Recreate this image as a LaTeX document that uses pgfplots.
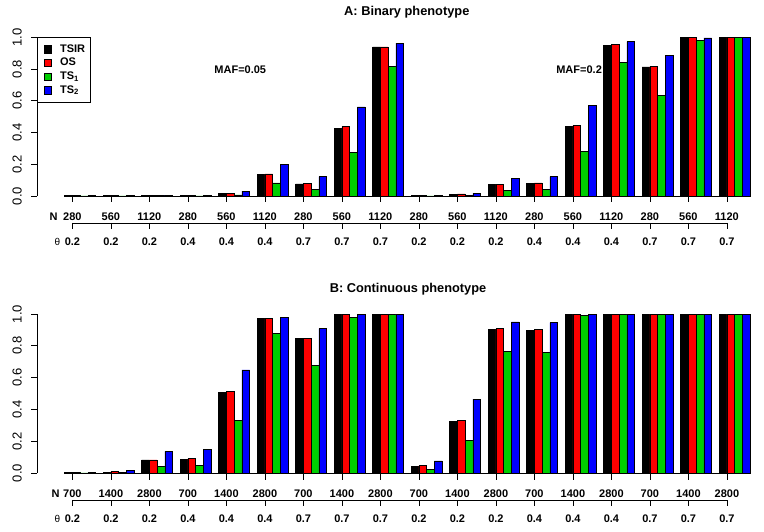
\documentclass[border=0pt]{standalone}
\usepackage{fontspec}
\setmainfont{Liberation Sans}
\usepackage{pgfplots}
\pgfplotsset{compat=1.18}
\usepackage{pgfplotstable}
\definecolor{rgreen}{RGB}{0,205,0}

% power by group: 18 groups, columns TSIR OS TS1 TS2
\pgfplotstableread{
N    theta TSIR  OS    TSa   TSb
280  0.2   0.002 0.002 0.001 0.002
560  0.2   0.002 0.002 0.001 0.002
1120 0.2   0.005 0.005 0.002 0.005
280  0.4   0.002 0.002 0.001 0.004
560  0.4   0.017 0.017 0.007 0.031
1120 0.4   0.134 0.139 0.082 0.197
280  0.7   0.076 0.080 0.042 0.122
560  0.7   0.428 0.437 0.277 0.561
1120 0.7   0.939 0.939 0.819 0.964
280  0.2   0.002 0.002 0.001 0.002
560  0.2   0.010 0.013 0.005 0.017
1120 0.2   0.074 0.074 0.036 0.113
280  0.4   0.078 0.082 0.044 0.122
560  0.4   0.437 0.445 0.282 0.573
1120 0.4   0.949 0.954 0.840 0.973
280  0.7   0.813 0.817 0.634 0.888
560  0.7   1.000 1.000 0.979 0.996
1120 0.7   1.000 1.000 1.000 1.000
}\binary

\pgfplotstableread{
N    theta TSIR  OS    TSa   TSb
700  0.2   0.002 0.002 0.001 0.002
1400 0.2   0.006 0.010 0.004 0.015
2800 0.2   0.082 0.082 0.042 0.136
700  0.4   0.088 0.092 0.048 0.149
1400 0.4   0.505 0.514 0.333 0.648
2800 0.4   0.973 0.973 0.878 0.977
700  0.7   0.845 0.849 0.679 0.908
1400 0.7   1.000 1.000 0.981 1.000
2800 0.7   1.000 1.000 1.000 1.000
700  0.2   0.044 0.048 0.023 0.077
1400 0.2   0.325 0.333 0.205 0.465
2800 0.2   0.904 0.908 0.767 0.950
700  0.4   0.899 0.904 0.761 0.946
1400 0.4   1.000 1.000 0.991 1.000
2800 0.4   1.000 1.000 1.000 1.000
700  0.7   1.000 1.000 1.000 1.000
1400 0.7   1.000 1.000 1.000 1.000
2800 0.7   1.000 1.000 1.000 1.000
}\continuous

\pgfplotsset{
  panel/.style={
    scale only axis, width=726.6pt,
    xmin=-2.56, xmax=91.8, ymin=0, ymax=1,
    axis x line=none, axis y line*=left,
    ytick={0,0.2,0.4,0.6,0.8,1.0},
    tick align=outside, major tick length=6pt,
    every tick/.style={line width=0.7pt, black},
    axis line style={line width=0.7pt},
    yticklabel shift=6pt,
    yticklabel style={/pgf/number format/.cd, fixed, fixed zerofill, precision=1, assume math mode=true,
      /tikz/.cd, font=\fontsize{13}{13}\selectfont, rotate=90, anchor=south},
    clip=false,
  },
  bars/.style={ybar, bar width=1, bar shift=#1, draw=black, line width=0.5pt},
}

\begin{document}
\begin{tikzpicture}
\useasboundingbox (0,0) rectangle (764pt,531pt);

\begin{axis}[panel, height=158.7pt, at={(37.3pt,335pt)}, anchor=south west,
  legend style={at={(0,1)}, anchor=north west, draw=black, line width=0.5pt,
    font=\bfseries\fontsize{11}{12}\selectfont, inner xsep=3pt, inner ysep=5pt,
    row sep=0.5pt},
  legend cell align=left,
  legend image code/.code={
    \draw[#1,draw=black,line width=0.4pt] (0pt,-3.8pt) rectangle (7.5pt,3.8pt);
    \path (-3pt,0pt) (14pt,0pt);},
]
\addplot[bars=-1.5, fill=black] table[x expr=5*\coordindex+3, y=TSIR] {\binary};
\addplot[bars=-0.5, fill=red] table[x expr=5*\coordindex+3, y=OS] {\binary};
\addplot[bars=0.5, fill=rgreen] table[x expr=5*\coordindex+3, y=TSa] {\binary};
\addplot[bars=1.5, fill=blue] table[x expr=5*\coordindex+3, y=TSb] {\binary};
\legend{TSIR, OS, TS\textsubscript{1}, TS\textsubscript{2}}
\node[font=\bfseries\fontsize{11}{12}\selectfont] at (axis cs:23.8,0.794) {MAF=0.05};
\node[font=\bfseries\fontsize{11}{12}\selectfont] at (axis cs:67.8,0.794) {MAF=0.2};
\end{axis}

\begin{axis}[panel, height=159pt, at={(37.3pt,58pt)}, anchor=south west]
\addplot[bars=-1.5, fill=black] table[x expr=5*\coordindex+3, y=TSIR] {\continuous};
\addplot[bars=-0.5, fill=red] table[x expr=5*\coordindex+3, y=OS] {\continuous};
\addplot[bars=0.5, fill=rgreen] table[x expr=5*\coordindex+3, y=TSa] {\continuous};
\addplot[bars=1.5, fill=blue] table[x expr=5*\coordindex+3, y=TSb] {\continuous};
\end{axis}

% titles
\node[font=\bfseries\fontsize{12.8}{14}\selectfont] at (406.8pt,518.5pt) {A: Binary phenotype};
\node[font=\bfseries\fontsize{12.8}{14}\selectfont] at (408pt,242pt) {B: Continuous phenotype};

% N and theta rows below each panel
\foreach \base/\nlist in {335/{280,560,1120,280,560,1120,280,560,1120,280,560,1120,280,560,1120,280,560,1120},
                          58/{700,1400,2800,700,1400,2800,700,1400,2800,700,1400,2800,700,1400,2800,700,1400,2800}} {
  \draw[line width=0.7pt] (72.4pt,\base pt-0.5pt) -- (726.9pt,\base pt-0.5pt);
  \draw[line width=0.7pt] (72.4pt,\base pt-27pt) -- (726.9pt,\base pt-27pt);
  \foreach \i in {0,...,17} {
    \draw[line width=0.7pt] ({(72.4+38.5*\i)*1pt},\base pt-0.5pt) -- ++(0,-6pt);
    \draw[line width=0.7pt] ({(72.4+38.5*\i)*1pt},\base pt-27pt) -- ++(0,-6pt);
  }
  \foreach \lab [count=\i from 0] in \nlist
    \node[font=\bfseries\fontsize{11}{12}\selectfont] at ({(72.4+38.5*\i)*1pt},\base pt-21pt) {\lab};
  \foreach \lab [count=\i from 0] in {0.2,0.2,0.2,0.4,0.4,0.4,0.7,0.7,0.7,0.2,0.2,0.2,0.4,0.4,0.4,0.7,0.7,0.7}
    \node[font=\bfseries\fontsize{11}{12}\selectfont] at ({(72.4+38.5*\i)*1pt},\base pt-46pt) {\lab};
  \node[font=\fontsize{10}{12}\selectfont] at (57.5pt,\base pt-46pt) {θ};
}
\node[font=\bfseries\fontsize{11}{12}\selectfont] at (53.5pt,314pt) {N};
\node[font=\bfseries\fontsize{11}{12}\selectfont] at (55.5pt,37pt) {N};
\end{tikzpicture}
\end{document}
